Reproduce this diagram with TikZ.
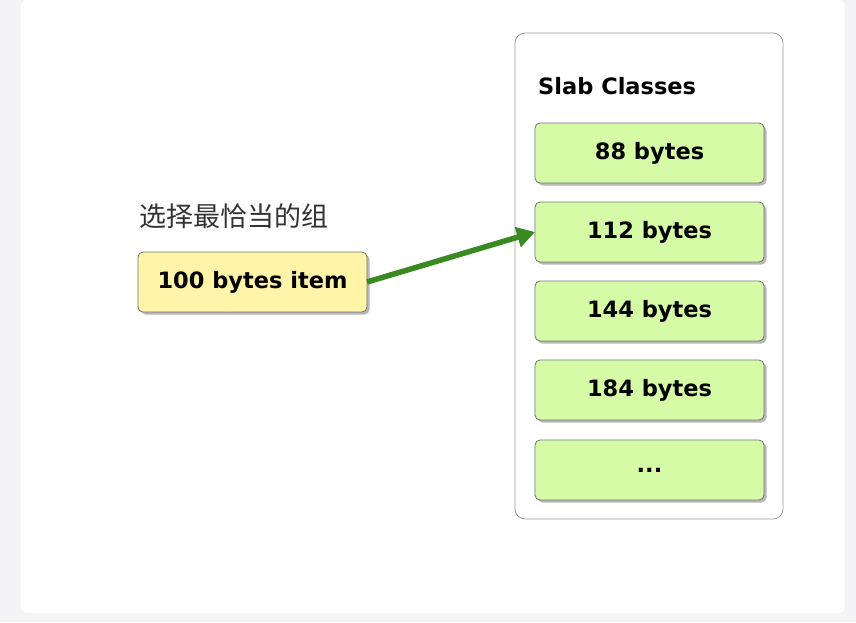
\documentclass[tikz,border=0pt]{standalone}
\usepackage{fontspec}
\setmainfont{DejaVu Sans}
\newfontfamily\cjk{Noto Sans CJK SC}
\usetikzlibrary{shadows,arrows.meta}
\definecolor{bg}{HTML}{F4F4F6}
\definecolor{yel}{HTML}{FFF4A8}
\definecolor{grn}{HTML}{D6FBA6}
\definecolor{arr}{HTML}{3A8A22}
\tikzset{x=1pt,y=-1pt,
 boxbase/.style={draw=black!55,line width=0.8pt,rounded corners=5pt,drop shadow={shadow xshift=2.5pt,shadow yshift=-2.5pt,fill=black!35,opacity=0.8}},
 slab/.style={boxbase,fill=grn},
 itm/.style={boxbase,fill=yel},
 lbl/.style={font=\bfseries\fontsize{22.5}{26}\selectfont}}
\begin{document}
\begin{tikzpicture}
\useasboundingbox (0,0) rectangle (856,622);
\fill[bg] (0,0) rectangle (856,622);
\fill[white,rounded corners=6pt] (21,0) rectangle (845,613);
\draw[black!40,line width=0.8pt,rounded corners=10pt,fill=white] (515,33) rectangle (783,519);
\node[anchor=west,lbl,inner sep=0pt] (title) at (538,86) {Slab Classes};
\path[slab] (535,123) rectangle (764,183); \node[lbl] (s1) at (649.5,153) {88 bytes};
\path[slab] (535,202) rectangle (764,262); \node[lbl] (s2) at (649.5,232) {112 bytes};
\path[slab] (535,281) rectangle (764,341); \node[lbl] (s3) at (649.5,311) {144 bytes};
\path[slab] (535,360) rectangle (764,420); \node[lbl] (s4) at (649.5,390) {184 bytes};
\path[slab] (535,440) rectangle (764,500); \node[lbl] (s5) at (649.5,470) {...};
\path[itm] (138,252) rectangle (367,312); \node[lbl] (it) at (252.5,282) {100 bytes item};
\coordinate (a) at (367,282);
\coordinate (b) at (535,232);
\node[anchor=west,inner sep=0pt,font=\cjk\fontsize{27}{30}\selectfont,text=black!80] (cap) at (139,216) {选择最恰当的组};
\draw[arr,line width=5.5pt,-{Triangle[length=18pt,width=20pt]}] (a) -- (b);
\end{tikzpicture}
\end{document}
